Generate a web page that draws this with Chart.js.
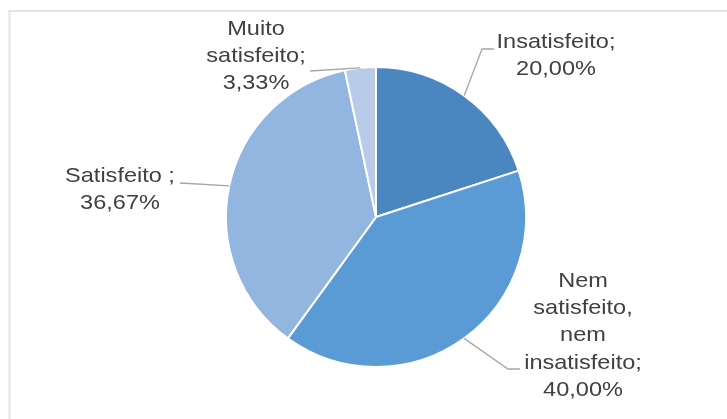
<!DOCTYPE html>
<html>
<head>
<meta charset="utf-8">
<script src="https://cdn.jsdelivr.net/npm/chart.js@4.4.1/dist/chart.umd.min.js"></script>
<style>
  html, body { margin: 0; padding: 0; background: #fff; }
  #wrap { position: relative; width: 727px; height: 419px; }
</style>
</head>
<body>
<div id="wrap"><canvas id="pie"></canvas></div>
<script>
  // dados
  const categories = ["Insatisfeito", "Nem satisfeito, nem insatisfeito", "Satisfeito", "Muito satisfeito"];
  const percentages = [20.00, 40.00, 36.67, 3.33];
  const labelLines = [
    ["Insatisfeito;"],
    ["Nem", "satisfeito,", "nem", "insatisfeito;"],
    ["Satisfeito ;"],
    ["Muito", "satisfeito;"]
  ];
  const sliceColors = ["#4a86c0", "#5b9bd5", "#92b6df", "#b8cce9"];

  // posição dos rótulos (texto + cotovelo da linha de chamada)
  const labelLayout = [
    { x: 556, y: 42, elbow: [482, 49], tail: [494, 49] },
    { x: 583, y: 281, elbow: [508, 369], tail: [520, 369] },
    { x: 120, y: 176, elbow: [180, 183], tail: [180, 183] },
    { x: 256, y: 29, elbow: [310, 71], tail: [310, 71] }
  ];

  const fmtPct = (v) => v.toFixed(2).replace(".", ",") + "%";

  const frame = {
    id: "frame",
    beforeDraw(chart) {
      const ctx = chart.ctx;
      ctx.save();
      ctx.strokeStyle = "#e3e3e3";
      ctx.lineWidth = 2;
      ctx.beginPath();
      ctx.moveTo(9.5, chart.height);
      ctx.lineTo(9.5, 11);
      ctx.lineTo(chart.width, 11);
      ctx.stroke();
      ctx.restore();
    }
  };

  const leaderLabels = {
    id: "leaderLabels",
    afterDatasetsDraw(chart) {
      const ctx = chart.ctx;
      const arcs = chart.getDatasetMeta(0).data;
      ctx.save();
      arcs.forEach((arc, i) => {
        const { x, y, startAngle, endAngle, outerRadius } = arc.getProps(
          ["x", "y", "startAngle", "endAngle", "outerRadius"], true);
        const mid = (startAngle + endAngle) / 2;
        const ex = x + Math.cos(mid) * outerRadius;
        const ey = y + Math.sin(mid) * outerRadius;
        const lay = labelLayout[i];

        ctx.strokeStyle = "#a6a6a6";
        ctx.lineWidth = 1.3;
        ctx.beginPath();
        ctx.moveTo(ex, ey);
        ctx.lineTo(lay.elbow[0], lay.elbow[1]);
        ctx.lineTo(lay.tail[0], lay.tail[1]);
        ctx.stroke();

        const lines = labelLines[i].concat([fmtPct(percentages[i])]);
        ctx.fillStyle = "#404040";
        ctx.font = "21px 'Liberation Sans', Arial, sans-serif";
        ctx.textAlign = "center";
        ctx.textBaseline = "middle";
        lines.forEach((t, k) => {
          ctx.save();
          ctx.translate(lay.x, lay.y + k * 27.3);
          ctx.scale(1.12, 1);
          ctx.fillText(t, 0, 0);
          ctx.restore();
        });
      });
      ctx.restore();
    }
  };

  new Chart(document.getElementById("pie"), {
    type: "pie",
    data: {
      labels: categories,
      datasets: [{
        data: percentages,
        backgroundColor: sliceColors,
        borderColor: "#ffffff",
        borderWidth: 2,
        hoverOffset: 0
      }]
    },
    options: {
      responsive: true,
      maintainAspectRatio: false,
      animation: false,
      layout: { padding: { left: 225, top: 66, right: 200, bottom: 51 } },
      plugins: {
        legend: { display: false },
        tooltip: { enabled: false }
      }
    },
    plugins: [frame, leaderLabels]
  });
</script>
</body>
</html>
